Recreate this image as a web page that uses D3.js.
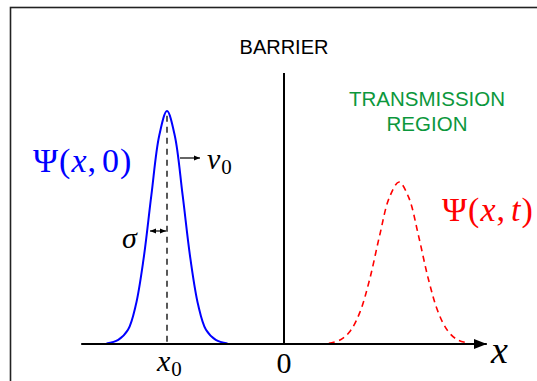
<!DOCTYPE html>
<html>
<head>
<meta charset="utf-8">
<script src="https://cdn.jsdelivr.net/npm/d3@7"></script>
<style>
  html, body { margin: 0; padding: 0; background: #fff; overflow: hidden; }
</style>
</head>
<body>
<div id="chart"></div>
<script>
// Wave packet before / after the barrier

const x0 = -3;           // packet centre at t = 0
const barrierX = 0;
const axisExtent = [-5.2, 5.2];

// initial packet Psi(x,0): x positions and heights
const packetX = [-4.55, -4.25, -4.0, -3.8, -3.6, -3.4, -3.2, -3.0, -2.8, -2.6, -2.4, -2.2, -2.0, -1.75, -1.45];
const packetY = [0.002, 0.018, 0.061, 0.167, 0.366, 0.640, 0.894, 1.0, 0.894, 0.640, 0.366, 0.167, 0.061, 0.018, 0.002];

// transmitted packet Psi(x,t)
const transX = [1.15, 1.45, 1.7, 1.95, 2.2, 2.45, 2.7, 2.95, 3.2, 3.45, 3.7, 3.95, 4.2, 4.45, 4.75];
const transY = [0.003, 0.018, 0.056, 0.138, 0.280, 0.464, 0.628, 0.695, 0.628, 0.464, 0.280, 0.138, 0.056, 0.018, 0.003];

const width = 537, height = 381;
const serif = '"Liberation Serif", "Times New Roman", "DejaVu Serif", serif';
const sans = '"Liberation Sans", Arial, sans-serif';

const svg = d3.select("#chart")
    .append("svg")
    .attr("width", width)
    .attr("height", height);

const xScale = d3.scaleLinear().domain([-3, 0]).range([167, 284]);
const yScale = d3.scaleLinear().domain([0, 1]).range([344, 111]);

const defs = svg.append("defs");
function arrowMarker(id, len, half) {
    defs.append("marker")
        .attr("id", id)
        .attr("viewBox", `0 ${-half} ${len} ${2 * half}`)
        .attr("refX", len)
        .attr("refY", 0)
        .attr("markerUnits", "userSpaceOnUse")
        .attr("markerWidth", len)
        .attr("markerHeight", 2 * half)
        .attr("orient", "auto-start-reverse")
        .append("path")
        .attr("d", `M0,${-half}L${len},0L0,${half}Z`)
        .attr("fill", "#000");
}
arrowMarker("axisArrow", 13, 5);
arrowMarker("smallArrow", 6, 2.6);

// frame
svg.append("rect")
    .attr("x", 10.5)
    .attr("y", 7.5)
    .attr("width", 600)
    .attr("height", 500)
    .attr("fill", "none")
    .attr("stroke", "#222")
    .attr("stroke-width", 1.6);

// 1. curves
const line = d3.line()
    .x(d => xScale(d[0]))
    .y(d => yScale(d[1]))
    .curve(d3.curveCatmullRom.alpha(0.5));

svg.append("path")
    .datum(d3.zip(packetX, packetY))
    .attr("d", line)
    .attr("fill", "none")
    .attr("stroke", "#0000ff")
    .attr("stroke-width", 2);

svg.append("path")
    .datum(d3.zip(transX, transY))
    .attr("d", line)
    .attr("fill", "none")
    .attr("stroke", "#ff0000")
    .attr("stroke-width", 1.6)
    .attr("stroke-dasharray", "6,4.5");

// dashed centre line at x0
svg.append("line")
    .attr("x1", xScale(x0)).attr("x2", xScale(x0))
    .attr("y1", yScale(0.98)).attr("y2", yScale(0))
    .attr("stroke", "#000")
    .attr("stroke-width", 1.3)
    .attr("stroke-dasharray", "6,5");

// 2. axis
svg.append("line")
    .attr("x1", xScale(axisExtent[0])).attr("x2", xScale(axisExtent[1]))
    .attr("y1", yScale(0)).attr("y2", yScale(0))
    .attr("stroke", "#000")
    .attr("stroke-width", 2)
    .attr("marker-end", "url(#axisArrow)");

// barrier
svg.append("line")
    .attr("x1", xScale(barrierX)).attr("x2", xScale(barrierX))
    .attr("y1", 73).attr("y2", yScale(0))
    .attr("stroke", "#000")
    .attr("stroke-width", 2);

// v0 arrow
svg.append("line")
    .attr("x1", 180).attr("x2", 200)
    .attr("y1", 158).attr("y2", 158)
    .attr("stroke", "#000")
    .attr("stroke-width", 1.2)
    .attr("marker-end", "url(#smallArrow)");

// sigma double arrow
svg.append("line")
    .attr("x1", 150).attr("x2", xScale(x0) - 1)
    .attr("y1", 231).attr("y2", 231)
    .attr("stroke", "#000")
    .attr("stroke-width", 1.2)
    .attr("marker-start", "url(#smallArrow)")
    .attr("marker-end", "url(#smallArrow)");

// 3. labels
svg.append("text")
    .attr("x", xScale(barrierX))
    .attr("y", 54)
    .attr("text-anchor", "middle")
    .style("font-family", sans)
    .style("font-size", "20px")
    .text("BARRIER");

const trans = svg.append("text")
    .attr("text-anchor", "middle")
    .style("font-family", sans)
    .style("font-size", "20.5px")
    .attr("fill", "#0c973c");
trans.append("tspan").attr("x", 427).attr("y", 106).text("TRANSMISSION");
trans.append("tspan").attr("x", 427).attr("y", 131).text("REGION");

function mathLabel(x, y, size, color, parts) {
    const t = svg.append("text")
        .attr("x", x)
        .attr("y", y)
        .attr("fill", color)
        .style("font-family", serif)
        .style("font-size", size + "px");
    parts.forEach(p => {
        const s = t.append("tspan").text(p.t);
        if (p.i) s.style("font-style", "italic");
        if (p.sub) s.style("font-size", (size * 0.7) + "px").attr("dy", size * 0.16);
        if (p.dx) s.attr("dx", p.dx);
    });
    return t;
}

mathLabel(33, 172, 34, "#0000ff", [
    { t: "Ψ" }, { t: "(", dx: 1 }, { t: "x", i: true, dx: 1 }, { t: ",", dx: 1 }, { t: "0", dx: 6 }, { t: ")", dx: 1 }
]);
mathLabel(442, 221, 34, "#ff0000", [
    { t: "Ψ" }, { t: "(", dx: 1 }, { t: "x", i: true, dx: 1 }, { t: ",", dx: 1 }, { t: "t", i: true, dx: 6 }, { t: ")", dx: 1 }
]);
mathLabel(207, 169, 30, "#000", [{ t: "v", i: true }, { t: "0", sub: true, dx: 1 }]);
mathLabel(122, 248, 30, "#000", [{ t: "σ", i: true }]);
mathLabel(157, 371, 30, "#000", [{ t: "x", i: true }, { t: "0", sub: true, dx: 1 }]);

svg.append("text")
    .attr("x", xScale(0))
    .attr("y", 373)
    .attr("text-anchor", "middle")
    .style("font-family", serif)
    .style("font-size", "30px")
    .text("0");

mathLabel(491, 363, 38, "#000", [{ t: "x", i: true }]);
</script>
</body>
</html>
